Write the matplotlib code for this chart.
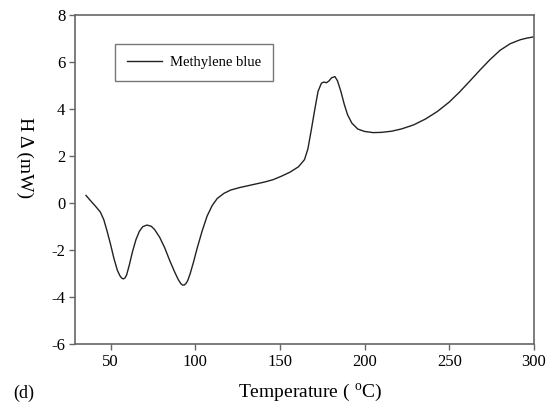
import matplotlib
matplotlib.use('Agg')
import matplotlib.pyplot as plt

# DSC trace
temperature = [35.5, 38, 41, 44, 46, 48, 50, 52, 54, 55.5, 56.5, 57.5, 58.5, 59.5,
               61, 63, 65, 67, 69, 71.5, 74, 76, 79, 82, 85, 88, 90, 91.5, 92.5,
               93.5, 94.5, 95.5, 97, 99, 101, 104, 107, 110, 113, 117, 121, 126,
               131, 136, 141, 146, 151, 156, 161, 164.5, 166.5, 168.5, 170.5,
               172.5, 174.5, 176, 177.5, 179, 180.5, 182.5, 184, 186, 188, 190,
               192.5, 196, 200, 205, 210, 216, 222, 229, 236, 243, 250, 256,
               262, 268, 274, 280, 286, 292, 296, 300]
heat_flow = [0.33, 0.12, -0.12, -0.38, -0.7, -1.2, -1.75, -2.35, -2.85, -3.08,
             -3.18, -3.22, -3.18, -3.05, -2.65, -2.05, -1.55, -1.2, -1.0,
             -0.93, -0.98, -1.12, -1.45, -1.9, -2.45, -2.95, -3.25, -3.42,
             -3.48, -3.48, -3.42, -3.3, -3.0, -2.5, -1.95, -1.2, -0.55, -0.1,
             0.2, 0.42, 0.56, 0.66, 0.74, 0.82, 0.9, 1.0, 1.15, 1.32, 1.55,
             1.85, 2.3, 3.1, 3.95, 4.75, 5.1, 5.15, 5.12, 5.2, 5.33, 5.38, 5.2,
             4.75, 4.2, 3.75, 3.4, 3.15, 3.05, 3.0, 3.01, 3.06, 3.16, 3.33,
             3.58, 3.9, 4.3, 4.72, 5.18, 5.65, 6.1, 6.5, 6.78, 6.95, 7.02, 7.07]

plt.rcParams['font.family'] = ['Liberation Serif', 'DejaVu Serif']
plt.rcParams['axes.unicode_minus'] = False

fig = plt.figure(figsize=(5.6, 4.13), dpi=100)
ax = fig.add_axes([0.1339, 0.1663, 0.8196, 0.7974])

ax.plot(temperature, heat_flow, color='#222222', linewidth=1.0, label='Methylene blue')

ax.set_xlim(29, 300)
ax.set_ylim(-6, 8)
ax.set_xticks([50, 100, 150, 200, 250, 300])
ax.set_yticks([-6, -4, -2, 0, 2, 4, 6, 8])
ax.tick_params(direction='out', length=4, width=1, color='#666666',
               labelsize=12, pad=3, top=False, right=False)
for s in ax.spines.values():
    s.set_color('#666666')
    s.set_linewidth(1.2)

leg = ax.legend(loc='upper left', bbox_to_anchor=(115 / 560, 1 - 44 / 413),
                bbox_transform=fig.transFigure, fontsize=10.5, frameon=True,
                fancybox=False, handlelength=2.4, borderpad=0.8,
                handletextpad=0.6, borderaxespad=0)
leg.get_frame().set_edgecolor('#555555')
leg.get_frame().set_linewidth(1.0)

fig.text(310 / 560, 1 - 393 / 413, 'Temperature ( $^\\mathregular{o}$C)',
         ha='center', va='center', fontsize=14)
fig.text(25 / 560, 1 - 158 / 413, 'H Δ (mW)', rotation=270,
         ha='center', va='center', fontsize=14)
fig.text(24 / 560, 1 - 393 / 413, '(d)', ha='center', va='center', fontsize=13)

fig.savefig('out.png', dpi=100)
